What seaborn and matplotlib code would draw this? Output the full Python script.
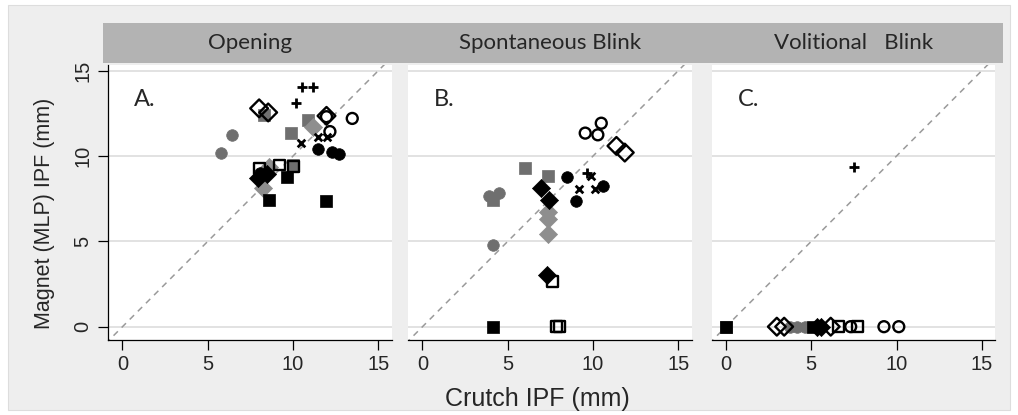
import numpy as np
import pandas as pd
import matplotlib
matplotlib.use("Agg")
import matplotlib.pyplot as plt
from matplotlib.patches import Rectangle
import seaborn as sns

# marker codes: g/b/o = gray filled, black filled, open; c/s/d = circle, square, diamond
# p = plus, x = cross
panel_titles = ["Opening", "Spontaneous Blink", "Volitional   Blink"]
panel_letters = ["A.", "B.", "C."]

a_crutch = [6.43, 5.75, 8.31, 9.85, 10.89, 10.0, 8.6, 8.25, 11.18,
            11.49, 12.29, 12.7, 8.05, 9.65, 8.6, 11.92, 7.95, 8.45,
            13.47, 12.16, 11.96, 8.01, 9.18, 10.01, 8.01, 8.54, 11.96,
            10.5, 11.14, 10.15, 10.46, 11.47, 11.96]
a_magnet = [11.24, 10.18, 12.4, 11.32, 12.1, 9.5, 9.35, 8.1, 11.71,
            10.39, 10.26, 10.1, 9.02, 8.77, 7.45, 7.35, 8.73, 8.92,
            12.2, 11.43, 12.3, 9.28, 9.47, 9.41, 12.79, 12.55, 12.35,
            14.02, 14.02, 13.1, 10.75, 11.14, 11.14]
a_style = ["gc", "gc", "gs", "gs", "gs", "gs", "gd", "gd", "gd",
           "bc", "bc", "bc", "bc", "bs", "bs", "bs", "bd", "bd",
           "oc", "oc", "oc", "os", "os", "os", "od", "od", "od",
           "p", "p", "p", "x", "x", "x"]

b_crutch = [3.89, 4.48, 4.13, 6.02, 7.37, 4.15, 7.37, 7.37, 7.37,
            8.48, 10.58, 9.0, 4.13, 6.94, 7.4, 7.3,
            9.54, 10.28, 10.48, 7.63, 7.85, 8.05, 11.37, 11.86,
            9.65, 9.9, 9.2, 10.09]
b_magnet = [7.65, 7.85, 4.81, 9.28, 8.83, 7.41, 6.73, 6.28, 5.45,
            8.77, 8.24, 7.35, 0.0, 8.14, 7.45, 3.0,
            11.34, 11.24, 11.92, 2.65, 0.0, 0.0, 10.59, 10.2,
            9.0, 8.85, 8.04, 8.04]
b_style = ["gc", "gc", "gc", "gs", "gs", "gs", "gd", "gd", "gd",
           "bc", "bc", "bc", "bs", "bd", "bd", "bd",
           "oc", "oc", "oc", "os", "os", "os", "od", "od",
           "p", "x", "x", "x"]

c_crutch = [3.74, 4.19, 4.64, 0.0, 0.0, 5.1, 5.36, 5.56,
            7.31, 9.26, 10.13, 6.59, 7.7, 2.98, 3.41, 6.14, 7.5]
c_magnet = [0.0, 0.0, 0.0, 0.0, 0.0, 0.0, 0.0, 0.0,
            0.0, 0.0, 0.0, 0.0, 0.0, 0.0, 0.0, 0.0, 9.38]
c_style = ["gc", "gc", "gc", "gs", "bs", "bs", "bd", "bd",
           "oc", "oc", "oc", "os", "os", "od", "od", "od", "p"]

style_order = ["gc", "gs", "gd", "bc", "bs", "bd", "oc", "os", "od", "p", "x"]
marker_of = {"c": "o", "s": "s", "d": "D"}
fill_of = {"g": "#6f6f6f", "b": "black"}

sns.set_style("white")
plt.rcParams["font.family"] = ["Liberation Sans", "DejaVu Sans"]

fig = plt.figure(figsize=(10.18, 4.15), dpi=100)
fig.patch.set_facecolor("white")
fig.patches.append(Rectangle((8 / 1018, 1 - 410 / 415), 1002 / 1018, 405 / 415,
                             transform=fig.transFigure, facecolor="#eeeeee",
                             edgecolor="#dddddd", lw=0.8, zorder=-10))
fig.patches.append(Rectangle((103 / 1018, 1 - 63.3 / 415), 900 / 1018, 40.6 / 415,
                             transform=fig.transFigure, facecolor="#b3b3b3",
                             edgecolor="none", zorder=-5))

lefts = [108, 408, 711.5]
panels = [(a_crutch, a_magnet, a_style), (b_crutch, b_magnet, b_style),
          (c_crutch, c_magnet, c_style)]

for i, (cx, my, st) in enumerate(panels):
    df = pd.DataFrame({"crutch": cx, "magnet": my, "style": st})
    ax = fig.add_axes([lefts[i] / 1018, 1 - 340 / 415, 284 / 1018, 275 / 415])
    ax.set_facecolor("white")
    ax.set_xlim(-0.85, 15.8)
    ax.set_ylim(-0.78, 15.33)
    ax.set_yticks([0, 5, 10, 15])
    ax.set_xticks([0, 5, 10, 15])
    ax.yaxis.grid(True, color="#e2e2e2", lw=1.4)
    ax.xaxis.grid(False)
    ax.set_axisbelow(True)
    ax.plot([-1, 16], [-1, 16], ls=(0, (4, 3.5)), color="#9a9a9a", lw=1.1, zorder=1)

    for code in style_order:
        sub = df[df["style"] == code]
        if sub.empty:
            continue
        if code == "p":
            sns.scatterplot(data=sub, x="crutch", y="magnet", marker="+", s=48,
                            color="black", linewidth=2.0, ax=ax, zorder=3)
        elif code == "x":
            sns.scatterplot(data=sub, x="crutch", y="magnet", marker="x", s=30,
                            color="black", linewidth=2.0, ax=ax, zorder=3)
        elif code[0] == "o":
            size = 82 if code[1] == "d" else 62
            sns.scatterplot(data=sub, x="crutch", y="magnet", marker=marker_of[code[1]],
                            s=size, facecolor="none", edgecolor="black",
                            linewidth=1.7, ax=ax, zorder=3)
        else:
            col = fill_of[code[0]]
            if code == "gd":
                col = "#8e8e8e"
            size = 85 if code[1] == "d" else 70
            sns.scatterplot(data=sub, x="crutch", y="magnet", marker=marker_of[code[1]],
                            s=size, color=col, edgecolor=col, linewidth=0.5,
                            ax=ax, zorder=2)

    ax.text(1.3, 13.3, panel_letters[i], fontsize=17, family="Lato",
            ha="center", va="center")
    fig.text((lefts[i] + 142) / 1018, 1 - 43 / 415, panel_titles[i], fontsize=16,
             family="Lato", ha="center", va="center")

    for s in ["top", "right"]:
        ax.spines[s].set_visible(False)
    ax.spines["bottom"].set_color("black")
    ax.spines["bottom"].set_linewidth(0.9)
    ax.tick_params(axis="x", direction="out", length=7, width=0.9, color="black",
                   labelsize=14.5, pad=4, bottom=True)
    ax.set_xlabel("")
    ax.set_ylabel("")
    if i == 0:
        ax.spines["left"].set_color("black")
        ax.spines["left"].set_linewidth(0.9)
        ax.tick_params(axis="y", direction="out", length=7, width=0.9, color="black",
                       labelsize=14.5, pad=4, left=True)
        for lab in ax.get_yticklabels():
            lab.set_rotation(90)
            lab.set_va("center")
    else:
        ax.spines["left"].set_visible(False)
        ax.tick_params(axis="y", left=False, labelleft=False)

fig.text(45 / 1018, 1 - 213 / 415, "Magnet (MLP) IPF (mm)", rotation=90,
         fontsize=15.5, ha="center", va="center")
fig.text(537 / 1018, 1 - 399 / 415, "Crutch IPF (mm)", fontsize=18,
         ha="center", va="center")

fig.savefig("out.png", dpi=100, facecolor=fig.get_facecolor())
